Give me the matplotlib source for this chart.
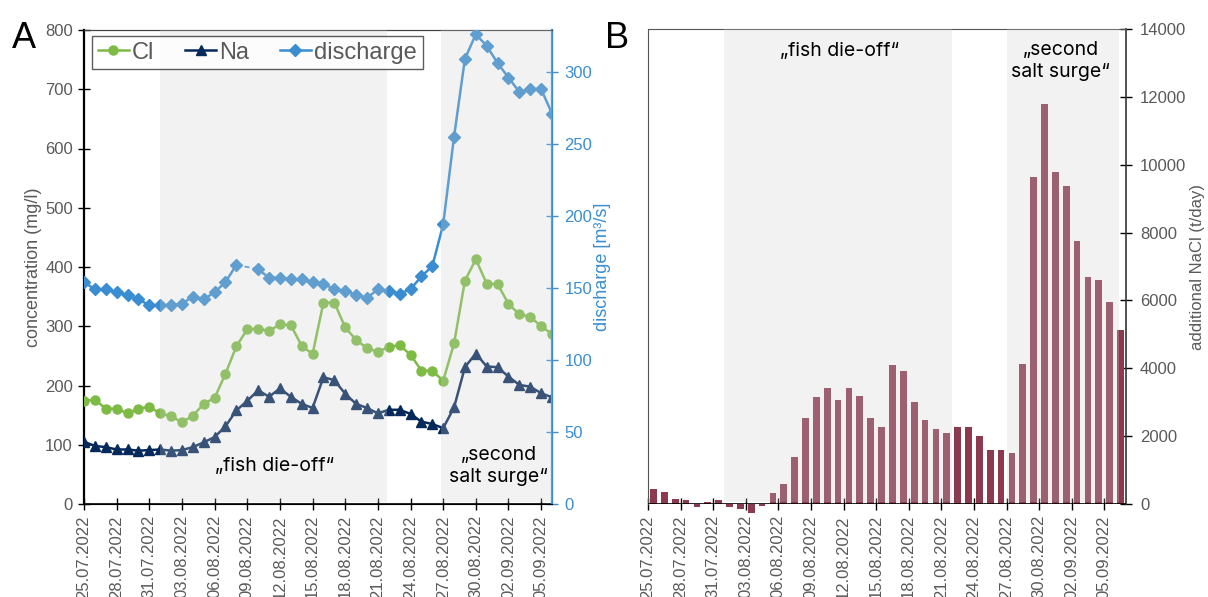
import numpy as np
import pandas as pd
import matplotlib
matplotlib.use('Agg')
import matplotlib.pyplot as plt

# daily values 25.07.2022 - 06.09.2022
dates = pd.date_range('2022-07-25', periods=44)
tick_idx = list(range(0, 44, 3))
tick_labels = [dates[i].strftime('%d.%m.%Y') for i in tick_idx]

cl = [174, 176, 161, 161, 153, 161, 164, 153, 148, 138, 149, 169, 179, 220, 266, 295,
      296, 292, 303, 302, 267, 253, 340, 340, 298, 277, 263, 257, 265, 268, 252, 225,
      225, 208, 271, 377, 413, 372, 371, 338, 320, 316, 300, 287]
na = [105, 98, 96, 92, 92, 90, 91, 92, 90, 91, 96, 104, 113, 131, 158, 174,
      192, 181, 195, 181, 169, 162, 214, 209, 186, 169, 162, 153, 159, 159, 152, 139,
      135, 128, 163, 231, 254, 232, 231, 215, 201, 198, 187, 180]
discharge = [154, 149, 149, 147, 145, 142, 138, 138, 138, 139, 144, 142, 147, 154, 166, np.nan,
             163, 157, 157, 156, 156, 154, 153, 149, 148, 145, 143, 149, 148, 146, 149, 158,
             165, 194, 255, 309, 326, 318, 306, 296, 286, 288, 288, 271]
nacl = [440, 360, 150, 110, -80, 60, 110, -80, -150, -275, -70, 330, 600, 1400, 2540, 3150,
        3410, 3070, 3410, 3180, 2540, 2270, 4090, 3930, 3010, 2480, 2210, 2100, 2270, 2280,
        2010, 1580, 1600, 1510, 4120, 9650, 11800, 9780, 9370, 7740, 6680, 6590, 5950, 5130]

GREEN = '#7dbb45'
NAVY = '#05295a'
BLUE = '#3a8dd0'
BAR = '#8b3a50'
GREY = '#595959'
OVERLAY = '#cfcfcf'

plt.rcParams['font.family'] = ['Liberation Sans', 'DejaVu Sans']
fig = plt.figure(figsize=(12.08, 5.97), dpi=100)

# ---------------- panel A ----------------
ax = fig.add_axes([84 / 1208, 1 - 504 / 597, 468 / 1208, 474 / 597])
ax2 = ax.twinx()
x = np.arange(len(cl))

l_cl, = ax.plot(x, cl, color=GREEN, lw=1.8, marker='o', ms=6.5, zorder=3, label='Cl')
l_na, = ax.plot(x, na, color=NAVY, lw=1.8, marker='^', ms=7.5, zorder=3, label='Na')
q = np.array(discharge, dtype=float)
l_q, = ax2.plot(x, q, color=BLUE, lw=1.8, marker='D', ms=6, zorder=3, label='discharge')
ax2.plot([14, 16], [q[14], q[16]], color=BLUE, lw=1.2, ls=(0, (3, 2)), zorder=3)

ax.set_xlim(0, 43)
ax.set_ylim(0, 800)
ax2.set_ylim(0, 329)
ax.set_yticks(range(0, 801, 100))
ax2.set_yticks(range(0, 301, 50))
ax.set_xticks(tick_idx)
ax.set_xticklabels(tick_labels, rotation=90)

# shaded periods are drawn over the lines (lightens them like the original)
ax2.axvspan(7.0, 27.8, ymin=0.005, color=OVERLAY, alpha=0.26, lw=0, zorder=5)
ax2.axvspan(32.8, 43.0, ymin=0.005, color=OVERLAY, alpha=0.26, lw=0, zorder=5)

ax.tick_params(axis='both', direction='inout', length=8, width=1, colors='black',
               labelcolor=GREY, labelsize=12, pad=4)
ax2.tick_params(axis='y', direction='inout', length=8, width=1, colors=BLUE,
                labelcolor=BLUE, labelsize=12, pad=5)
ax.spines['left'].set_linewidth(1.6)
ax.spines['bottom'].set_linewidth(1.2)
ax.spines['top'].set_color('#444444')
ax2.spines['right'].set_color(BLUE)
ax2.spines['right'].set_linewidth(1.6)
ax2.spines['left'].set_visible(False)
ax2.spines['top'].set_color('#444444')
ax.set_ylabel('concentration (mg/l)', color=GREY, fontsize=13, labelpad=2)
ax2.set_ylabel('discharge [m³/s]', color=BLUE, fontsize=13, labelpad=1)

ax2.text(17.5, 64 * 329 / 800, '„fish die-off“', fontsize=14, family='Inter',
         ha='center', va='center', zorder=6)
ax2.text(38.1, 64 * 329 / 800, '„second\nsalt surge“', fontsize=14, family='Inter',
         ha='center', va='center', linespacing=1.3, zorder=6)

leg = ax2.legend(handles=[l_cl, l_na, l_q], loc='upper left', bbox_to_anchor=(0.017, 0.988),
                 ncol=3, fontsize=17, frameon=True, fancybox=False, borderaxespad=0,
                 handlelength=1.3, handletextpad=0.15, columnspacing=1.3,
                 borderpad=0.25, labelcolor=GREY)
leg.get_frame().set_edgecolor('#333333')
leg.get_frame().set_linewidth(1.0)
leg.set_zorder(10)

fig.text(24 / 1208, 1 - 38 / 597, 'A', fontsize=26, ha='center', va='center')

# ---------------- panel B ----------------
bx = fig.add_axes([648 / 1208, 1 - 504 / 597, 478 / 1208, 475 / 597])
xb = np.arange(len(nacl)) + 0.5
bx.bar(xb, nacl, width=0.62, color=BAR, zorder=3, clip_on=False)
bx.axvspan(7.0, 28.0, ymin=0.005, color=OVERLAY, alpha=0.26, lw=0, zorder=5)
bx.axvspan(33.0, 43.4, ymin=0.005, color=OVERLAY, alpha=0.26, lw=0, zorder=5)
bx.axhline(0, color='black', lw=1.2, zorder=6)

bx.set_xlim(0, 44)
bx.set_ylim(0, 14000)
bx.set_xticks(tick_idx)
bx.set_xticklabels(tick_labels, rotation=90)
bx.set_yticks(range(0, 14001, 2000))
bx.yaxis.tick_right()
bx.yaxis.set_label_position('right')
bx.tick_params(axis='both', direction='inout', length=8, width=1, colors='black',
               labelcolor=GREY, labelsize=12, pad=4)
bx.tick_params(axis='y', pad=6)
for s in ('left', 'top'):
    bx.spines[s].set_color('#555555')
    bx.spines[s].set_linewidth(0.8)
bx.spines['right'].set_color('#333333')
bx.spines['right'].set_linewidth(1.2)
bx.spines['bottom'].set_visible(False)
bx.set_ylabel('additional NaCl (t/day)', color=GREY, fontsize=12, labelpad=3)

bx.text(17.6, 13350, '„fish die-off“', fontsize=14, family='Inter',
        ha='center', va='center', zorder=6)
bx.text(38.0, 13050, '„second\nsalt surge“', fontsize=14, family='Inter',
        ha='center', va='center', linespacing=1.3, zorder=6)

fig.text(617 / 1208, 1 - 38 / 597, 'B', fontsize=26, ha='center', va='center')

fig.savefig('out.png', dpi=100)
